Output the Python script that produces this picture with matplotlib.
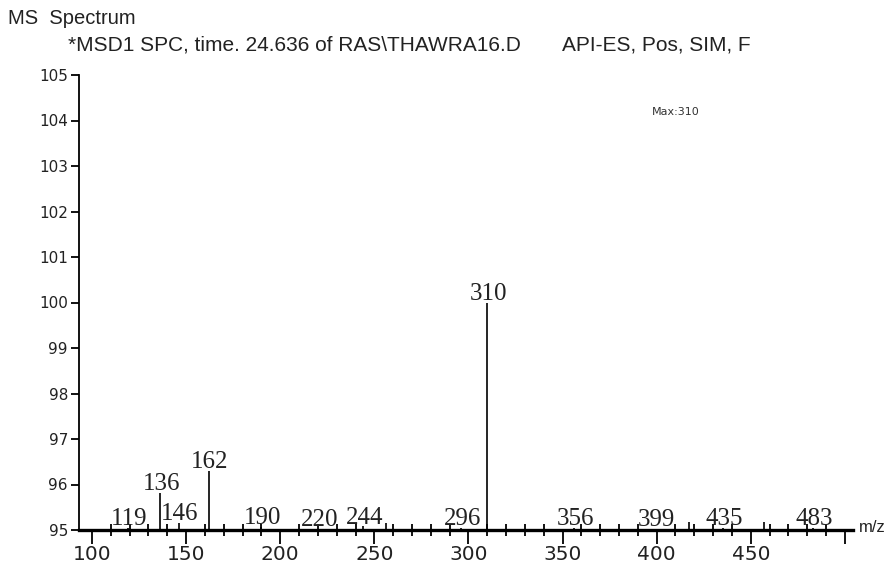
import matplotlib
matplotlib.use("Agg")
import matplotlib.pyplot as plt
from matplotlib.ticker import MultipleLocator, FixedLocator

# Data (m/z, abundance)
labeled_mz = [119, 136, 146, 162, 190, 220, 244, 296, 310, 356, 399, 435, 483]
labeled_ab = [95.05, 95.82, 95.15, 96.30, 95.06, 95.03, 95.08, 95.04, 100.0, 95.05, 95.03, 95.05, 95.05]
unlabeled_mz = [256, 417, 457]
unlabeled_ab = [95.15, 95.17, 95.17]
x_major = [100, 150, 200, 250, 300, 350, 400, 450, 500]
x_major_labels = ["100", "150", "200", "250", "300", "350", "400", "450", ""]
y_ticks = [95, 96, 97, 98, 99, 100, 101, 102, 103, 104, 105]

fig = plt.figure(figsize=(8.92, 5.65), dpi=100)
ax = fig.add_axes([79/892, 35/565, (853-79)/892, (530-75)/565])
ax.set_xlim(93.1, 504.3)
ax.set_ylim(95, 105)
ymin = 95

ax.vlines(labeled_mz, ymin, labeled_ab, color="black", lw=1.2)
ax.vlines(unlabeled_mz, ymin, unlabeled_ab, color="black", lw=1.2)

for mz, ab in zip(labeled_mz, labeled_ab):
    ax.annotate(str(mz), (mz, ab), xytext=(1, 2), textcoords="offset points",
                ha="center", va="baseline", fontsize=18, family="Liberation Serif",
                color="#222222")

for s in ["top", "right"]:
    ax.spines[s].set_visible(False)
ax.spines["bottom"].set_linewidth(2.4)
ax.spines["left"].set_linewidth(1.3)

ax.xaxis.set_major_locator(FixedLocator(x_major))
ax.set_xticklabels(x_major_labels)
ax.xaxis.set_minor_locator(MultipleLocator(10))
ax.tick_params(axis="x", which="major", direction="out", length=10, width=1.3,
               labelsize=14.5, pad=1)
ax.tick_params(axis="x", which="minor", direction="inout", length=9, width=1.3)
ax.set_yticks(y_ticks)
ax.tick_params(axis="y", which="major", direction="out", length=6, width=1.3,
               labelsize=11, pad=2)
for lab in ax.get_xticklabels() + ax.get_yticklabels():
    lab.set_family("DejaVu Sans")
    lab.set_color("#222222")

fig.text(8/892, 1 - 18/565, "MS  Spectrum", fontsize=14.5, family="Liberation Sans",
         va="center", ha="left", color="#222222")
fig.text(68/892, 1 - 45/565,
         "*MSD1 SPC, time. 24.636 of RAS\\THAWRA16.D",
         fontsize=15, family="Liberation Sans", va="center", ha="left", color="#222222")
fig.text(562/892, 1 - 45/565, "API-ES, Pos, SIM, F",
         fontsize=15, family="Liberation Sans", va="center", ha="left", color="#222222")
fig.text(652/892, 1 - 112/565, "Max:310", fontsize=8, family="DejaVu Sans",
         va="center", ha="left", color="#333333")
fig.text(859/892, 1 - 528/565, "m/z", fontsize=12, family="Liberation Sans",
         va="center", ha="left", color="#222222")

fig.savefig("out.png", dpi=100, facecolor="white")
